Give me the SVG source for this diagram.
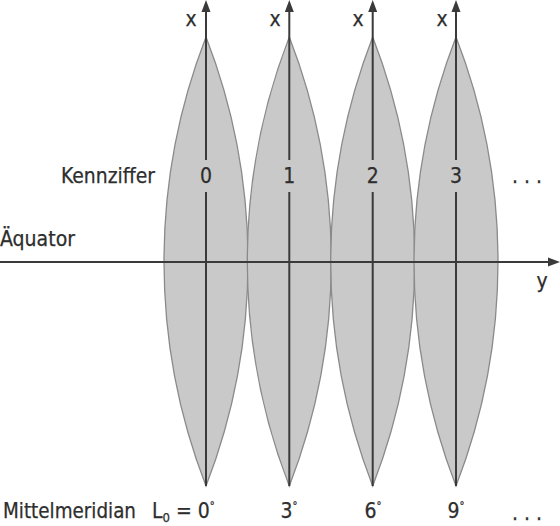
<svg xmlns="http://www.w3.org/2000/svg" width="560" height="526" viewBox="0 0 560 526">
<style>
.lens{fill:#c9c9c9;stroke:#8a8a8a;stroke-width:1.3}
.ax{stroke:#3a3a3a;stroke-width:2;fill:none}
.ah{fill:#3a3a3a}
text{font-family:"DejaVu Sans Condensed","DejaVu Sans","Liberation Sans",sans-serif;fill:#2e2e2e;font-size:21px;stroke:#2e2e2e;stroke-width:0.25}
.c{text-anchor:middle}
.deg{font-size:11px}
</style>
<rect width="560" height="526" fill="#fff"/>
<g id="lenses">
<path id="lens0" class="lens" d="M206,37 A621,621 0 0 1 206,486 A621,621 0 0 1 206,37 Z"/>
<path id="lens1" class="lens" d="M289.3,37 A621,621 0 0 1 289.3,486 A621,621 0 0 1 289.3,37 Z"/>
<path id="lens2" class="lens" d="M372.7,37 A621,621 0 0 1 372.7,486 A621,621 0 0 1 372.7,37 Z"/>
<path id="lens3" class="lens" d="M456,37 A621,621 0 0 1 456,486 A621,621 0 0 1 456,37 Z"/>
</g>
<g id="connectors">
<line class="ax" x1="0" y1="262" x2="551" y2="262"/>
<polygon class="ah" points="560,262 548,257.5 548,266.5"/>
<path class="ax" d="M206,10 V160 M206,192 V486"/>
<path class="ax" d="M289.3,10 V160 M289.3,192 V486"/>
<path class="ax" d="M372.7,10 V160 M372.7,192 V486"/>
<path class="ax" d="M456,10 V160 M456,192 V486"/>
<polygon class="ah" points="206,0 201.5,12 210.5,12"/>
<polygon class="ah" points="289.3,0 284.8,12 293.8,12"/>
<polygon class="ah" points="372.7,0 368.2,12 377.2,12"/>
<polygon class="ah" points="456,0 451.5,12 460.5,12"/>
</g>
<g id="labels">
<text x="191" y="26" class="c">x</text>
<text x="275" y="26" class="c">x</text>
<text x="358" y="26" class="c">x</text>
<text x="442" y="26" class="c">x</text>
<text x="61" y="183" textLength="94" lengthAdjust="spacingAndGlyphs">Kennziffer</text>
<text x="206" y="183" class="c">0</text>
<text x="289.3" y="183" class="c">1</text>
<text x="372.7" y="183" class="c">2</text>
<text x="456" y="183" class="c">3</text>
<text x="527" y="183" class="c">. . .</text>
<text x="0" y="246" textLength="75" lengthAdjust="spacingAndGlyphs">Äquator</text>
<text x="542" y="288" class="c">y</text>
<text x="3" y="518" textLength="133" lengthAdjust="spacingAndGlyphs">Mittelmeridian</text>
<text x="152" y="518">L<tspan font-size="13" dy="4">0</tspan><tspan dy="-4"> = 0</tspan><tspan class="deg" dy="-9">°</tspan></text>
<text x="289" y="518" class="c">3<tspan class="deg" dy="-9">°</tspan></text>
<text x="373" y="518" class="c">6<tspan class="deg" dy="-9">°</tspan></text>
<text x="456" y="518" class="c">9<tspan class="deg" dy="-9">°</tspan></text>
<text x="527" y="520" class="c">. . .</text>
</g>
</svg>
